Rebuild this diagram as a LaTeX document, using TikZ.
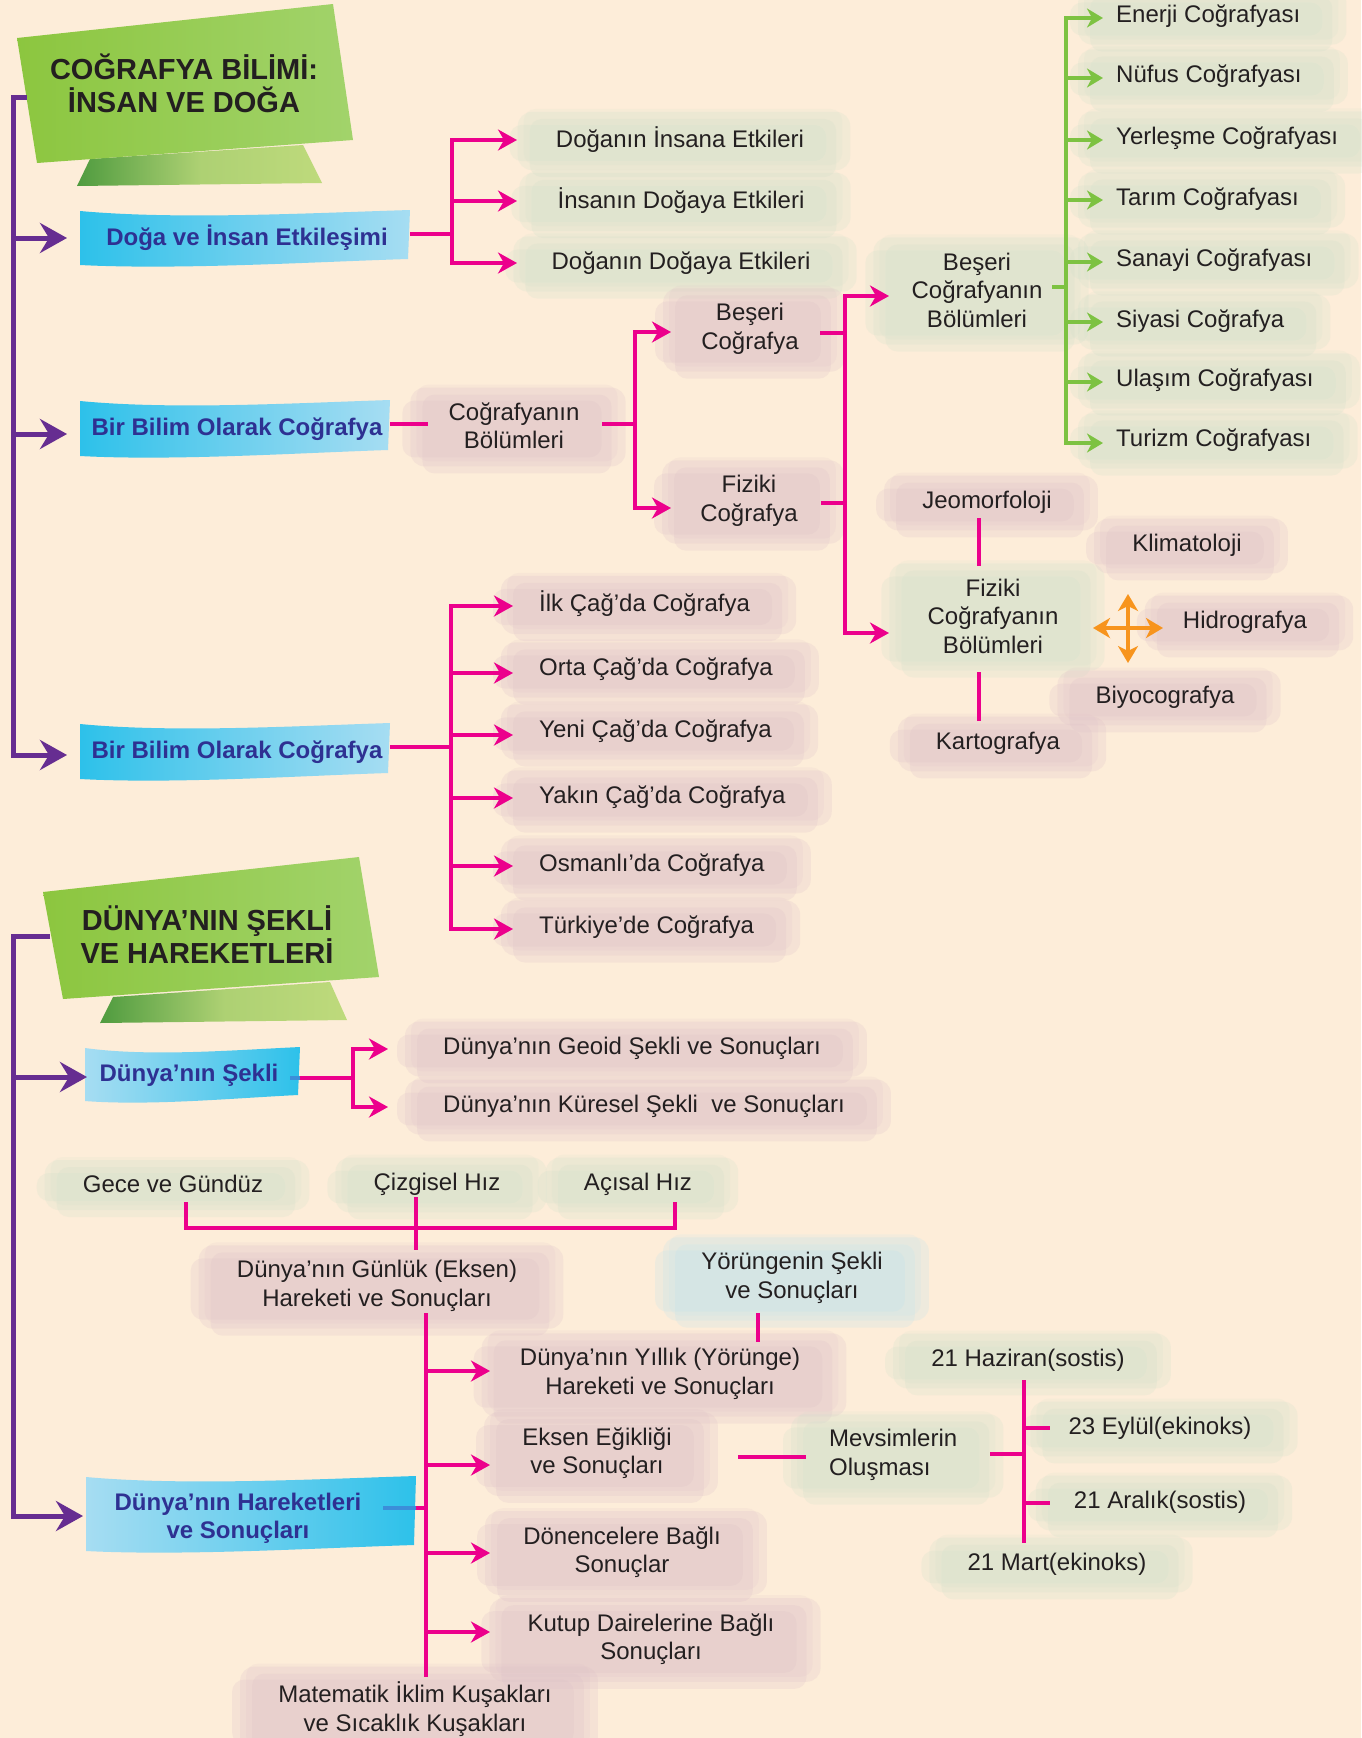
\documentclass[tikz,border=0pt]{standalone}
\usepackage{fontspec}
\setmainfont{Liberation Sans}
\usetikzlibrary{arrows.meta,calc}
\definecolor{bgc}{HTML}{FDEDD9}
\definecolor{mpink}{HTML}{EC008C}
\definecolor{mpurple}{HTML}{662D91}
\definecolor{mgreen}{HTML}{7DC242}
\definecolor{morange}{HTML}{F7941D}
\definecolor{txt}{HTML}{231F20}
\definecolor{btxt}{HTML}{2E3192}
\definecolor{bcyan}{HTML}{2DC1EA}
\definecolor{blight}{HTML}{A6DDF2}
\definecolor{bmid}{HTML}{6CCFEE}
\definecolor{blobp}{HTML}{DDBFC8}
\definecolor{blobg}{HTML}{CFE0CB}
\definecolor{blobb}{HTML}{BDE3EE}
\definecolor{rg1}{HTML}{8CC63F}
\definecolor{rg2}{HTML}{B5D334}
\definecolor{rg3}{HTML}{A2D36B}
\definecolor{fd1}{HTML}{4F9B3F}
\definecolor{fd2}{HTML}{BEDA7C}
\definecolor{sline}{HTML}{3B8ED9}
\pgfdeclarelayer{bg}\pgfdeclarelayer{blob}\pgfsetlayers{bg,blob,main}
\newcommand\blob[2]{%
\begin{pgfonlayer}{blob}
\fill[#2,opacity=.22,rounded corners=14pt] ([shift={(-36pt,13pt)}]#1.north west) rectangle ([shift={(44pt,-15pt)}]#1.south east);
\fill[#2,opacity=.22,rounded corners=12pt] ([shift={(-24pt,6pt)}]#1.north west) rectangle ([shift={(30pt,-22pt)}]#1.south east);
\fill[#2,opacity=.22,rounded corners=12pt] ([shift={(-44pt,0pt)}]#1.north west) rectangle ([shift={(20pt,-6pt)}]#1.south east);
\fill[#2,opacity=.15,rounded corners=12pt] ([shift={(-30pt,16pt)}]#1.north west) rectangle ([shift={(36pt,-10pt)}]#1.south east);
\end{pgfonlayer}}
\newcommand\drawbanner[6]{%
 \pgfmathsetmacro\bwd{#3-#1}%
 \shade[left color=#5, right color=#6, middle color=bmid]
  (#1,#2) .. controls ({#1+0.3*\bwd},{#2+9}) and ({#1+0.7*\bwd},{#2+2}) .. (#3,{#2-1})
  -- ({#3-2},{#4-8})
  .. controls ({#1+0.7*\bwd},{#4-5}) and ({#1+0.3*\bwd},{#4+3}) .. (#1,{#4-2}) -- cycle;}
\begin{document}
\begin{tikzpicture}[x=1pt,y=-1pt,
 lbl/.style={font=\fontsize{24}{28.5}\selectfont, text=txt, align=center, inner sep=2pt},
 bnt/.style={font=\bfseries\fontsize{24}{28}\selectfont, text=btxt, align=center, inner sep=0pt},
 ttl/.style={font=\bfseries\fontsize{29}{33}\selectfont, text=txt, align=center},
 pk/.style={draw=mpink, line width=4pt},
 pka/.style={pk, -{Stealth[length=19pt,width=21pt,inset=6pt]}},
 purp/.style={draw=mpurple, line width=5pt},
 ppa/.style={purp, -{Stealth[length=27pt,width=30pt,inset=9pt]}},
 grl/.style={draw=mgreen, line width=4pt},
 gra/.style={grl, -{Stealth[length=16pt,width=19pt,inset=5pt]}},
 ora/.style={draw=morange, line width=4pt, {Stealth[length=17pt,width=20pt,inset=5pt]}-{Stealth[length=17pt,width=20pt,inset=5pt]}},
 bl/.style={draw=sline, line width=4pt}]
\begin{pgfonlayer}{bg}\fill[bgc] (0,0) rectangle (1361,1738);\end{pgfonlayer}
\useasboundingbox (0,0) rectangle (1361,1738);

% ===== Ribbon 1 =====
\shade[left color=fd1, right color=fd2, middle color=fd2!85!fd1] (90,159) -- (303,145) -- (322,183) -- (77,186) -- cycle;
\shade[left color=rg1, middle color=rg2, right color=rg3] (17,38) -- (333,4) -- (353,140) -- (37,163) -- cycle;
\node[ttl] (t1) at (184,83) {COĞRAFYA BİLİMİ:\\İNSAN VE DOĞA};
\coordinate (r1w) at (27,97);
\coordinate (sp1) at (13,97);

% banners section 1
\drawbanner{80}{211}{410}{267}{bcyan}{blight}
\node[bnt] (b1) at (247,238) {Doğa ve İnsan Etkileşimi};
\drawbanner{80}{401}{390}{458}{bcyan}{blight}
\node[bnt] (b2) at (237,429) {Bir Bilim Olarak Coğrafya};
\drawbanner{80}{724}{390}{781}{bcyan}{blight}
\node[bnt] (b3) at (237,752) {Bir Bilim Olarak Coğrafya};
\coordinate (b1w) at (67,238);
\coordinate (b2w) at (67,434);
\coordinate (b3w) at (67,755);
\coordinate (b1e) at (410,234);
\coordinate (b2e) at (390,424);
\coordinate (b3e) at (390,747);

\draw[ppa] (r1w) -- (sp1) |- (b3w);
\draw[ppa] (sp1) |- (b1w);
\draw[ppa] (sp1) |- (b2w);

% Doga ve insan
\node[lbl] (e1) at (680,140) {Doğanın İnsana Etkileri};
\node[lbl] (e2) at (681,201) {İnsanın Doğaya Etkileri};
\node[lbl] (e3) at (681,263) {Doğanın Doğaya Etkileri};
\blob{e1}{blobg}\blob{e2}{blobg}\blob{e3}{blobg}
\coordinate (j1) at (452,234);
\coordinate (tp1) at (517,0);
\draw[pk] (b1e) -- (j1);
\foreach \n in {e1,e2,e3} \draw[pka] (j1) |- (tp1 |- \n);

% Cografyanin bolumleri
\node[lbl] (cb) at (514,426) {Coğrafyanın\\Bölümleri};
\blob{cb}{blobp}
\draw[pk] (b2e) -- ++(38,0);
\node[lbl] (bc) at (750,329) {Beşeri\\Coğrafya};
\node[lbl] (fc) at (749,501) {Fiziki\\Coğrafya};
\blob{bc}{blobp}\blob{fc}{blobp}
\coordinate (j2) at (635,424);
\draw[pk] (602,424) -- (j2);
\draw[pka] (j2) |- (671,332);
\draw[pka] (j2) |- (671,508);

\coordinate (j3) at (845,333);
\draw[pk] (820,333) -- (j3);
\draw[pk] (821,503) -- (845,503);
\node[lbl] (bcb) at (977,290) {Beşeri\\Coğrafyanın\\Bölümleri};
\node[lbl] (fcb) at (993,616) {Fiziki\\Coğrafyanın\\Bölümleri};
\blob{bcb}{blobg}\blob{fcb}{blobg}
\draw[pka] (j3) |- (889,296);
\draw[pka] (j3) |- (889,633);

% green list
\coordinate (j4) at (1066,287);
\draw[grl] (1052,287) -- (j4);
\foreach \nm/\yy/\tx in {g1/16/Enerji Coğrafyası, g2/76/Nüfus Coğrafyası, g3/138/Yerleşme Coğrafyası, g4/199/Tarım Coğrafyası, g5/260/Sanayi Coğrafyası, g6/321/Siyasi Coğrafya, g7/380/Ulaşım Coğrafyası, g8/440/Turizm Coğrafyası}{
  \node[lbl, anchor=west] (\nm) at (1114,\yy) {\tx};
  \blob{\nm}{blobg}
}
\draw[grl] (1066,16) -- (1066,445);
\foreach \yy in {18,78,140,200,262,322,382,443} \draw[gra] (j4) |- (1103,\yy);

% fiziki cografya bolumleri
\node[lbl] (jeo) at (987,502) {Jeomorfoloji};
\node[lbl] (kar) at (998,743) {Kartografya};
\node[lbl] (kli) at (1187,545) {Klimatoloji};
\node[lbl] (hid) at (1245,622) {Hidrografya};
\node[lbl] (biy) at (1165,697) {Biyocografya};
\blob{jeo}{blobp}\blob{kar}{blobp}\blob{kli}{blobp}\blob{hid}{blobp}\blob{biy}{blobp}
\draw[pk] (979,518) -- (979,566);
\draw[pk] (979,672) -- (979,721);
\coordinate (cross) at (1128,628);
\draw[ora] ([xshift=-35pt]cross) -- ([xshift=35pt]cross);
\draw[ora] ([yshift=34pt]cross) -- ([yshift=-35pt]cross);

% cag list
\coordinate (j5) at (451,747);
\draw[pk] (b3e) -- (j5);
\foreach \nm/\yy/\tx in {c1/604/İlk Çağ’da Coğrafya, c2/669/Orta Çağ’da Coğrafya, c3/731/Yeni Çağ’da Coğrafya, c4/797/Yakın Çağ’da Coğrafya, c5/865/Osmanlı’da Coğrafya, c6/927/Türkiye’de Coğrafya}{
  \node[lbl, anchor=west] (\nm) at (537,\yy) {\tx};
  \blob{\nm}{blobp}
}
\draw[pk] (451,604) -- (451,931);
\foreach \yy in {606,673,735,798,866,929} \draw[pka] (j5) |- (513,\yy);

% ===== Ribbon 2 =====
\shade[left color=fd1, right color=fd2, middle color=fd2!85!fd1] (113,997) -- (330,982) -- (347,1020) -- (100,1023) -- cycle;
\shade[left color=rg1, middle color=rg2, right color=rg3] (43,892) -- (359,857) -- (379,977) -- (63,999) -- cycle;
\node[ttl] (t2) at (207,935) {DÜNYA’NIN ŞEKLİ\\VE HAREKETLERİ};
\coordinate (r2w) at (50,936);
\coordinate (sp2) at (13,936);

\drawbanner{85}{1048}{300}{1103}{blight}{bcyan}
\node[bnt] (b4) at (189,1075) {Dünya’nın Şekli};
\drawbanner{86}{1477}{416}{1553}{blight}{bcyan}
\node[bnt] (b5) at (238,1518) {Dünya’nın Hareketleri\\ve Sonuçları};
\coordinate (b4w) at (87,1077);
\coordinate (b5w) at (83,1516);
\draw[ppa] (r2w) -- (sp2) |- (b5w);
\draw[ppa] (sp2) |- (b4w);

% Dunya'nin sekli
\node[lbl, anchor=west] (s1) at (441,1048) {Dünya’nın Geoid Şekli ve Sonuçları};
\node[lbl, anchor=west] (s2) at (441,1106) {Dünya’nın Küresel Şekli\ \ ve Sonuçları};
\blob{s1}{blobp}\blob{s2}{blobp}
\coordinate (j6) at (353,1078);
\draw[bl] (290,1078) -- (300,1078);
\draw[pk] (300,1078) -- (j6);
\draw[pka] (j6) |- (388,1049);
\draw[pka] (j6) |- (388,1107);

% gunluk hareket
\node[lbl] (gg) at (173,1184) {Gece ve Gündüz};
\node[lbl] (ch) at (437,1184) {Çizgisel Hız};
\node[lbl] (ah) at (638,1184) {Açısal Hız};
\blob{gg}{blobg}\blob{ch}{blobg}\blob{ah}{blobg}
\node[lbl] (gh) at (377,1286) {Dünya’nın Günlük (Eksen)\\Hareketi ve Sonuçları};
\blob{gh}{blobp}
\coordinate (j7) at (416,1228);
\draw[pk] (186,1202) |- (j7);
\draw[pk] (675,1202) |- (j7);
\draw[pk] (416,1197) -- (416,1250);

% yillik
\node[lbl] (yo) at (792,1278) {Yörüngenin Şekli\\ve Sonuçları};
\blob{yo}{blobb}
\draw[pk] (758,1313) -- (758,1342);
\node[lbl] (yh) at (660,1374) {Dünya’nın Yıllık (Yörünge)\\Hareketi ve Sonuçları};
\node[lbl] (ee) at (597,1453) {Eksen Eğikliği\\ve Sonuçları};
\node[lbl] (dn) at (622,1552) {Dönencelere Bağlı\\Sonuçlar};
\node[lbl] (kd) at (651,1639) {Kutup Dairelerine Bağlı\\Sonuçları};
\node[lbl] (mi) at (415,1709) {Matematik İklim Kuşakları\\ve Sıcaklık Kuşakları};
\blob{yh}{blobp}\blob{ee}{blobp}\blob{dn}{blobp}\blob{kd}{blobp}\blob{mi}{blobp}
\coordinate (j8) at (426,1508);
\draw[pk] (426,1313) -- (426,1677);
\draw[bl] (383,1508) -- (416,1508);
\draw[pk] (416,1508) -- (j8);
\foreach \yy in {1371,1465,1553,1632} \draw[pka] (j8) |- (490,\yy);

% mevsimler
\node[lbl, align=left, anchor=west] (mo) at (827,1455) {Mevsimlerin\\Oluşması};
\blob{mo}{blobg}
\draw[pk] (738,1457) -- (806,1457);
\node[lbl] (hz) at (1028,1360) {21 Haziran(sostis)};
\node[lbl] (ey) at (1160,1428) {23 Eylül(ekinoks)};
\node[lbl] (ar) at (1160,1502) {21 Aralık(sostis)};
\node[lbl] (mr) at (1057,1564) {21 Mart(ekinoks)};
\blob{hz}{blobg}\blob{ey}{blobg}\blob{ar}{blobg}\blob{mr}{blobg}
\coordinate (j9) at (1024,1454);
\draw[pk] (990,1454) -- (j9);
\draw[pk] (1024,1380) -- (1024,1543);
\draw[pk] (1022,1428) -- (1050,1428);
\draw[pk] (1022,1503) -- (1050,1503);
\end{tikzpicture}
\end{document}
